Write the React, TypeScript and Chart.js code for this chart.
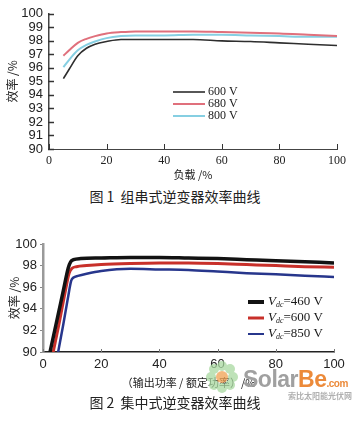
import React, { useEffect, useRef } from "react";
import { Chart, registerables } from "chart.js";
Chart.register(...registerables);

// ---------- Data: Figure 1 (string inverter) ----------
const load1 = [5, 7, 10, 13, 16, 20, 25, 30, 40, 50, 60, 70, 80, 90, 100];
const eff600 = [95.2, 95.9, 96.9, 97.45, 97.75, 97.95, 98.1, 98.1, 98.1, 98.1, 98.0, 97.95, 97.85, 97.75, 97.65];
const eff680 = [96.9, 97.3, 97.85, 98.15, 98.35, 98.55, 98.65, 98.7, 98.7, 98.7, 98.65, 98.6, 98.55, 98.45, 98.35];
const eff800 = [96.05, 96.6, 97.3, 97.7, 97.95, 98.2, 98.35, 98.4, 98.4, 98.45, 98.45, 98.4, 98.35, 98.3, 98.3];
const labels1 = ["600 V", "680 V", "800 V"];
const yTicks1 = [90, 91, 92, 93, 94, 95, 96, 97, 98, 99, 100];
const xTicks = [0, 20, 40, 60, 80, 100];

// ---------- Data: Figure 2 (central inverter) ----------
const load460 = [2.4, 5, 7, 8.7, 9.5, 10.5, 13, 20, 30, 40, 50, 60, 70, 80, 90, 100];
const eff460 = [90, 93.2, 95.7, 97.8, 98.35, 98.55, 98.65, 98.7, 98.75, 98.75, 98.7, 98.65, 98.55, 98.45, 98.35, 98.25];
const load600 = [3.5, 5.5, 7.5, 9, 10, 11.5, 15, 20, 30, 40, 50, 60, 70, 80, 90, 100];
const eff600b = [90, 92.6, 95.4, 97.3, 97.75, 97.9, 98.0, 98.1, 98.2, 98.25, 98.25, 98.2, 98.1, 98.0, 97.9, 97.85];
const load850 = [5.2, 7, 8.5, 9.7, 10.5, 12, 15, 20, 30, 40, 50, 60, 70, 80, 90, 100];
const eff850 = [90, 92.6, 94.9, 96.6, 96.9, 97.05, 97.25, 97.5, 97.7, 97.65, 97.6, 97.45, 97.3, 97.2, 97.05, 96.95];
const labels2 = ["460 V", "600 V", "850 V"];
const yTicks2 = [90, 92, 94, 96, 98, 100];

const CJK = '"Noto Sans CJK SC", "Noto Sans", sans-serif';
const SANSN = '"Liberation Sans Narrow", "Liberation Sans", Arial, sans-serif';
const SERIF = '"Liberation Serif", "Times New Roman", serif';

const pts = (xs: number[], ys: number[]) => xs.map((x, i) => ({ x, y: ys[i] }));

// draws small tick marks pointing into the plot area
const innerTicks = {
  id: "innerTicks",
  afterDraw(chart: any, _args: any, opts: any) {
    const { ctx, chartArea } = chart;
    ctx.save();
    if (opts.x) {
      const s = chart.scales.x;
      ctx.strokeStyle = opts.x.color;
      ctx.lineWidth = 1;
      s.ticks.forEach((t: any) => {
        const px = Math.round(s.getPixelForValue(t.value)) + 0.5;
        ctx.beginPath();
        ctx.moveTo(px, chartArea.bottom);
        ctx.lineTo(px, chartArea.bottom - opts.x.len);
        ctx.stroke();
      });
    }
    if (opts.y) {
      const s = chart.scales.y;
      ctx.strokeStyle = opts.y.color;
      ctx.lineWidth = opts.y.width || 1;
      s.ticks.forEach((t: any) => {
        const py = Math.round(s.getPixelForValue(t.value)) + 0.5;
        ctx.beginPath();
        ctx.moveTo(chartArea.left - 1, py);
        ctx.lineTo(chartArea.left + opts.y.len, py);
        ctx.stroke();
      });
    }
    ctx.restore();
  },
};

const customLegend = {
  id: "customLegend",
  afterDraw(chart: any, _args: any, opts: any) {
    const { ctx } = chart;
    ctx.save();
    chart.data.datasets.forEach((ds: any, i: number) => {
      const y = opts.y + i * opts.gap;
      ctx.strokeStyle = ds.borderColor;
      ctx.lineWidth = opts.lineWidths ? opts.lineWidths[i] : ds.borderWidth;
      ctx.beginPath();
      ctx.moveTo(opts.x, y);
      ctx.lineTo(opts.x + opts.len, y);
      ctx.stroke();
      ctx.fillStyle = "#1a1a1a";
      ctx.textBaseline = "middle";
      ctx.textAlign = "left";
      let tx = opts.x + opts.len + opts.textGap;
      if (opts.vdc) {
        ctx.font = `italic ${opts.size}px ${SERIF}`;
        ctx.fillText("V", tx, y);
        tx += ctx.measureText("V").width;
        ctx.font = `italic ${Math.round(opts.size * 0.58)}px ${SERIF}`;
        ctx.fillText("dc", tx, y + 3);
        tx += ctx.measureText("dc").width;
        ctx.font = `${opts.size}px ${SERIF}`;
        ctx.fillText("=" + ds.label, tx, y);
      } else {
        ctx.font = `${opts.size}px ${SERIF}`;
        ctx.fillText(ds.label, tx, y);
      }
    });
    ctx.restore();
  },
};

export default function App() {
  const ref1 = useRef<HTMLCanvasElement>(null);
  const ref2 = useRef<HTMLCanvasElement>(null);

  useEffect(() => {
    const c1 = new Chart(ref1.current as HTMLCanvasElement, {
      type: "line",
      data: {
        datasets: [
          { label: labels1[0], data: pts(load1, eff600), borderColor: "#2e2e2e", borderWidth: 1.6 },
          { label: labels1[1], data: pts(load1, eff680), borderColor: "#e0707c", borderWidth: 2 },
          { label: labels1[2], data: pts(load1, eff800), borderColor: "#86cfe2", borderWidth: 2 },
        ] as any,
      },
      options: {
        responsive: false,
        devicePixelRatio: 1,
        animation: false,
        layout: { padding: { left: 0, right: 25, top: 13, bottom: 0 } },
        elements: { point: { radius: 0 }, line: { cubicInterpolationMode: "monotone" } },
        plugins: {
          legend: { display: false },
          tooltip: { enabled: false },
          innerTicks: { x: { len: 5, color: "#333" }, y: { len: 5, color: "#333", width: 1.5 } },
          customLegend: { x: 173, y: 92, gap: 12, len: 32, textGap: 3, size: 12 },
        } as any,
        scales: {
          x: {
            type: "linear",
            min: 0,
            max: 100,
            afterBuildTicks: (s: any) => { s.ticks = xTicks.map((v) => ({ value: v })); },
            afterFit: (s: any) => { s.height = 36; },
            ticks: { color: "#222", font: { family: SERIF, size: 12 }, padding: 5, maxRotation: 0, autoSkip: false },
            grid: { display: false, drawTicks: false, tickLength: 0 },
            border: { display: true, color: "#444", width: 1 },
            title: { display: true, text: "负载 /%", color: "#222", font: { family: CJK, size: 11 }, padding: { top: 0, bottom: 4 } },
          },
          y: {
            min: 90,
            max: 100,
            afterBuildTicks: (s: any) => { s.ticks = yTicks1.map((v) => ({ value: v })); },
            afterFit: (s: any) => { s.width = 49; },
            ticks: { color: "#222", font: { family: SANSN, size: 13 }, padding: 6, autoSkip: false },
            grid: { display: false, drawTicks: false, tickLength: 0 },
            border: { display: true, color: "#444", width: 1.5 },
            title: { display: true, text: "效率 /%", color: "#222", font: { family: CJK, size: 12 }, padding: { top: 5, bottom: 0 } },
          },
        },
      } as any,
      plugins: [innerTicks, customLegend],
    });

    const c2 = new Chart(ref2.current as HTMLCanvasElement, {
      type: "line",
      data: {
        datasets: [
          { label: labels2[0], data: pts(load460, eff460), borderColor: "#121212", borderWidth: 3.5 },
          { label: labels2[1], data: pts(load600, eff600b), borderColor: "#c8302a", borderWidth: 3 },
          { label: labels2[2], data: pts(load850, eff850), borderColor: "#27368c", borderWidth: 2.5 },
        ] as any,
      },
      options: {
        responsive: false,
        devicePixelRatio: 1,
        animation: false,
        layout: { padding: { left: 0, right: 28, top: 18, bottom: 0 } },
        elements: { point: { radius: 0 }, line: { cubicInterpolationMode: "monotone" } },
        plugins: {
          legend: { display: false },
          tooltip: { enabled: false },
          innerTicks: { x: { len: 3, color: "#777" } },
          customLegend: { x: 248, y: 76, gap: 16, len: 16, textGap: 4, size: 13, vdc: true, lineWidths: [4, 3, 2] },
        } as any,
        scales: {
          x: {
            type: "linear",
            min: 0,
            max: 100,
            afterBuildTicks: (s: any) => { s.ticks = xTicks.map((v) => ({ value: v })); },
            afterFit: (s: any) => { s.height = 42; },
            ticks: { color: "#222", font: { family: SANSN, size: 13 }, padding: 5, maxRotation: 0, autoSkip: false },
            grid: { display: false, drawTicks: false, tickLength: 0 },
            border: { display: true, color: "#222", width: 1.5 },
            title: { display: true, text: "（输出功率 / 额定功率）/%", color: "#222", font: { family: CJK, size: 11 }, padding: { top: 0, bottom: 5 } },
          },
          y: {
            min: 90,
            max: 100,
            afterBuildTicks: (s: any) => { s.ticks = yTicks2.map((v) => ({ value: v })); },
            afterFit: (s: any) => { s.width = 43; },
            ticks: { color: "#222", font: { family: SANSN, size: 13 }, padding: 3, autoSkip: false },
            grid: { display: true, drawOnChartArea: false, drawTicks: true, tickLength: 3, color: "#888" },
            border: { display: true, color: "#9a9a9a", width: 2.5 },
            title: { display: true, text: "效率 /%", color: "#222", font: { family: CJK, size: 12 }, padding: { top: 7, bottom: 0 } },
          },
        },
      } as any,
      plugins: [innerTicks, customLegend],
    });

    return () => {
      c1.destroy();
      c2.destroy();
    };
  }, []);

  const petals = [0, 45, 90, 135, 180, 225, 270, 315];

  return (
    <div style={{ position: "absolute", left: 0, top: 0, width: 362, height: 421, background: "#fff", overflow: "hidden" }}>
      <canvas ref={ref1} width={362} height={185} style={{ position: "absolute", left: 0, top: 0 }} />
      <div style={{ position: "absolute", left: 0, width: 350, top: 186, textAlign: "center", font: `14px ${CJK}`, color: "#222", lineHeight: "20px" }}>
        图 1&nbsp; 组串式逆变器效率曲线
      </div>
      <canvas ref={ref2} width={362} height={168} style={{ position: "absolute", left: 0, top: 226 }} />
      {/* watermark */}
      <div style={{ position: "absolute", left: 222, top: 377, width: 0, height: 0, opacity: 0.75 }}>
        {petals.map((a) => (
          <div key={a} style={{ position: "absolute", width: 10, height: 10, borderRadius: 5, background: "#a8d8a0", left: -5 + 11 * Math.cos((a * Math.PI) / 180), top: -5 + 11 * Math.sin((a * Math.PI) / 180) }} />
        ))}
        <div style={{ position: "absolute", width: 12, height: 12, borderRadius: 6, background: "#f0a050", left: -6, top: -6 }} />
      </div>
      <div style={{ position: "absolute", left: 243, top: 366, font: `bold 23px ${"Liberation Sans"}, sans-serif`, color: "#a0a0a0", whiteSpace: "nowrap", letterSpacing: "-0.5px" }}>
        Solar<span style={{ color: "#ec8a3a" }}>Be</span>
        <span style={{ fontSize: 10, color: "#ec8a3a", fontWeight: "bold" }}>.com</span>
      </div>
      <div style={{ position: "absolute", left: 288, top: 390, font: `bold 8px ${CJK}`, color: "#b0b0b0", whiteSpace: "nowrap" }}>
        索比太阳能光伏网
      </div>
      <div style={{ position: "absolute", left: 0, width: 350, top: 392, textAlign: "center", font: `14px ${CJK}`, color: "#222", lineHeight: "20px" }}>
        图 2&nbsp; 集中式逆变器效率曲线
      </div>
    </div>
  );
}
